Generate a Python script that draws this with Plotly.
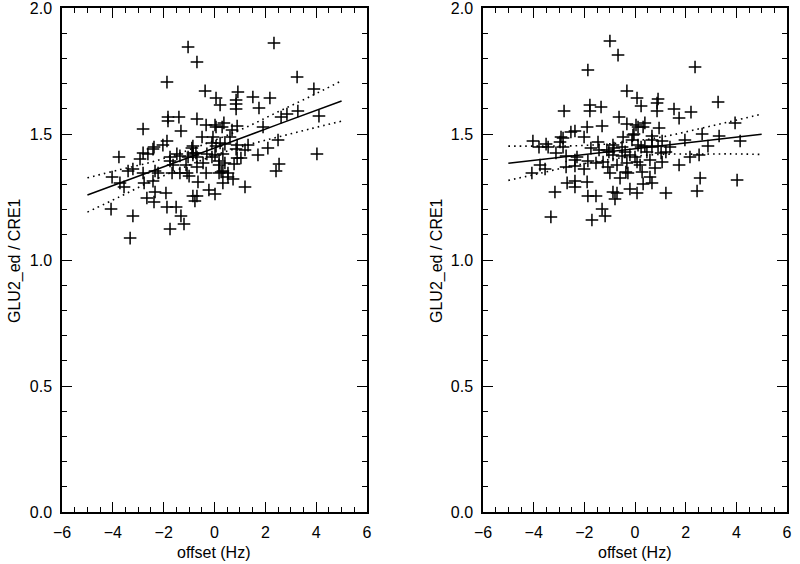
import plotly.graph_objects as go

# ---------------- data ----------------
left_x = [-1.04, -0.69, -1.87, -0.37, 0.06, 0.22, 0.92, 0.85, 0.85, 0.85, 1.51, 2.18, 1.75, 2.34, 3.25,
          3.91, 3.28, 2.85, 2.62, 4.11, -1.83, -1.83, -1.40, -2.81, -1.32, -0.69, -0.33, 0.02, 0.06, 0.37,
          0.30, 0.89, 0.69, 1.91, -0.49, -0.06, 0.61, 2.50, -1.87, -2.03, -2.38, -0.85, -0.10, 0.22, 0.89,
          1.32, 2.10, -2.42, -2.81, -2.62, -0.89, -0.85, 0.06, 0.41, -3.76, -2.93, -1.75, -1.75, -1.48, -1.36,
          -1.04, -0.85, -0.73, -0.69, -0.30, -0.10, 0.02, 0.33, 0.18, 0.41, 0.89, 0.77, -3.40, -3.21, -2.81,
          -2.34, -2.22, -1.67, -1.36, -1.08, -1.00, -1.63, -1.12, -0.69, -0.45, -0.33, 0.18, 0.26, 0.33, 0.18,
          0.53, -4.03, -3.72, -3.56, -2.77, -2.42, -0.65, 0.33, 0.53, 0.73, -0.22, 0.02, -2.34, -2.38, -2.66,
          -1.91, -0.85, -0.77, -0.69, -4.07, -1.87, -1.51, -3.21, -1.32, -1.20, -1.75, -3.32, 1.71, 4.03, 2.54,
          2.42, 1.04, 1.20, 1.20, 0.85]
left_y = [1.845, 1.786, 1.706, 1.671, 1.643, 1.615, 1.667, 1.635, 1.619, 1.599, 1.647, 1.643, 1.603, 1.861, 1.726,
          1.679, 1.591, 1.579, 1.567, 1.571, 1.567, 1.552, 1.567, 1.520, 1.512, 1.560, 1.536, 1.536, 1.528, 1.544,
          1.528, 1.532, 1.516, 1.528, 1.488, 1.488, 1.488, 1.476, 1.472, 1.456, 1.448, 1.452, 1.464, 1.464, 1.456,
          1.456, 1.444, 1.440, 1.425, 1.421, 1.444, 1.425, 1.452, 1.460, 1.409, 1.401, 1.409, 1.393, 1.421, 1.413,
          1.409, 1.417, 1.425, 1.409, 1.421, 1.409, 1.417, 1.421, 1.393, 1.385, 1.405, 1.381, 1.353, 1.361, 1.345,
          1.353, 1.345, 1.345, 1.345, 1.345, 1.333, 1.377, 1.377, 1.369, 1.385, 1.345, 1.377, 1.349, 1.353, 1.345,
          1.345, 1.329, 1.306, 1.290, 1.306, 1.313, 1.310, 1.306, 1.329, 1.321, 1.278, 1.262, 1.270, 1.230, 1.246,
          1.266, 1.254, 1.234, 1.254, 1.202, 1.210, 1.210, 1.175, 1.175, 1.143, 1.123, 1.087, 1.417, 1.421, 1.381,
          1.353, 1.405, 1.437, 1.290, 1.440]

right_x = [-0.99, -0.67, -1.86, 2.37, -0.32, 0.08, -1.78, -1.78, -1.34, -2.80, 0.91, 0.87, 0.24, 3.28, 1.54,
           2.21, 0.87, -0.63, 1.74, -0.32, 0.04, 0.12, 0.39, 0.32, 0.95, -1.89, -1.30, 3.95, -2.37, -2.53,
           -2.92, -2.84, -2.01, -0.47, -0.08, -0.12, 2.65, 3.32, 4.15, -4.03, -3.51, -3.79, -3.43, -2.96, -1.46,
           -0.87, -0.83, 0.67, 0.67, 1.07, 1.97, 2.88, 1.38, 0.91, -3.12, -1.74, -2.29, -2.37, -2.72, -2.72,
           -2.37, -1.86, -1.54, -1.26, -1.11, -0.87, -0.71, -0.32, -0.36, -0.28, 0.00, 0.08, -3.75, -3.55, -4.07,
           -0.99, -0.59, -2.68, -2.37, -2.37, -1.89, -3.16, -1.86, -1.54, -0.87, -0.71, -0.79, -0.20, 0.08, -1.30,
           -1.18, -3.32, -1.70, 0.12, 0.39, 1.22, 2.17, 2.53, 1.07, 1.74, 0.79, 0.20, 0.28, -1.07, 0.59,
           0.67, 0.32, 2.57, 4.03, 1.22, 2.45, -0.04, 0.24, -0.20, -0.51, -0.39, -0.51, -1.03, -1.42, -2.84,
           -2.01, 0.59, 0.67, 0.47, 1.03]
right_y = [1.869, 1.813, 1.754, 1.766, 1.671, 1.643, 1.615, 1.591, 1.607, 1.591, 1.639, 1.623, 1.611, 1.627, 1.599,
           1.587, 1.591, 1.567, 1.563, 1.540, 1.536, 1.528, 1.544, 1.528, 1.524, 1.528, 1.532, 1.544, 1.512, 1.508,
           1.488, 1.484, 1.488, 1.488, 1.496, 1.476, 1.500, 1.492, 1.472, 1.472, 1.460, 1.448, 1.448, 1.468, 1.468,
           1.456, 1.444, 1.492, 1.476, 1.472, 1.476, 1.452, 1.448, 1.452, 1.425, 1.444, 1.409, 1.397, 1.413, 1.369,
           1.373, 1.393, 1.385, 1.389, 1.437, 1.417, 1.377, 1.385, 1.349, 1.345, 1.409, 1.389, 1.377, 1.361, 1.345,
           1.345, 1.325, 1.306, 1.313, 1.290, 1.310, 1.270, 1.254, 1.254, 1.270, 1.266, 1.242, 1.282, 1.266, 1.202,
           1.175, 1.171, 1.159, 1.456, 1.452, 1.429, 1.409, 1.417, 1.389, 1.377, 1.365, 1.377, 1.349, 1.369, 1.329,
           1.306, 1.302, 1.325, 1.317, 1.266, 1.274, 1.500, 1.448, 1.417, 1.448, 1.429, 1.413, 1.429, 1.437, 1.448,
           1.361, 1.397, 1.448, 1.429, 1.425]

# regression line and confidence band, read at these offsets
fit_x = [-5, -3.75, -2.5, -1.25, 0, 1.25, 2.5, 3.75, 5]
left_fit = [1.258, 1.304, 1.351, 1.398, 1.4445, 1.491, 1.538, 1.584, 1.631]
left_upper = [1.326, 1.358, 1.388, 1.428, 1.475, 1.527, 1.588, 1.648, 1.711]
left_lower = [1.190, 1.250, 1.312, 1.366, 1.415, 1.455, 1.488, 1.520, 1.551]
right_fit = [1.384, 1.398, 1.413, 1.427, 1.4415, 1.456, 1.470, 1.485, 1.499]
right_upper = [1.452, 1.452, 1.453, 1.459, 1.472, 1.492, 1.520, 1.549, 1.579]
right_lower = [1.316, 1.344, 1.373, 1.395, 1.412, 1.420, 1.420, 1.421, 1.419]

x_title = "offset (Hz)"
y_title = "GLU2_ed / CRE1"

# ---------------- figure ----------------
fig = go.Figure()

panels = [
    (left_x, left_y, left_fit, left_upper, left_lower, "x", "y"),
    (right_x, right_y, right_fit, right_upper, right_lower, "x2", "y2"),
]
for px_, py_, fit, up, lo, xa, ya in panels:
    fig.add_trace(go.Scatter(x=px_, y=py_, mode="markers", xaxis=xa, yaxis=ya,
                             marker=dict(symbol="cross-thin", size=9, color="black",
                                         line=dict(color="black", width=1.5)),
                             showlegend=False))
    fig.add_trace(go.Scatter(x=fit_x, y=fit, mode="lines", xaxis=xa, yaxis=ya,
                             line=dict(color="black", width=1.5), showlegend=False))
    for band in (up, lo):
        fig.add_trace(go.Scatter(x=fit_x, y=band, mode="lines", xaxis=xa, yaxis=ya,
                                 line=dict(color="black", width=1.6, dash="1.6px,4px", shape="spline"),
                                 showlegend=False))

font = dict(family="Liberation Sans, Arial, Helvetica, sans-serif", size=16, color="black")

def xaxis(domain, anchor):
    return dict(domain=domain, anchor=anchor, range=[-6, 6], tickvals=[-6, -4, -2, 0, 2, 4, 6],
                ticks="inside", ticklen=10, tickwidth=1.2, tickcolor="black",
                minor=dict(dtick=0.5, tick0=0, ticks="inside", ticklen=5, tickwidth=1.2, tickcolor="black"),
                showline=True, linecolor="black", linewidth=1.5, mirror="allticks",
                showgrid=False, zeroline=False, tickfont=font, automargin=False,
                ticklabelstandoff=5, ticklabeloverflow="allow")

def yaxis(domain, anchor):
    return dict(domain=domain, anchor=anchor, range=[0, 2], tickvals=[0, 0.5, 1.0, 1.5, 2.0],
                tickformat=".1f",
                ticks="inside", ticklen=10, tickwidth=1.2, tickcolor="black",
                minor=dict(dtick=0.1, tick0=0, ticks="inside", ticklen=5, tickwidth=1.2, tickcolor="black"),
                showline=True, linecolor="black", linewidth=1.5, mirror="allticks",
                showgrid=False, zeroline=False, tickfont=font, automargin=False,
                ticklabelstandoff=5, ticklabeloverflow="allow")

ydom = [1 - 512 / 564, 1 - 8 / 564]
ann = dict(xref="paper", yref="paper", showarrow=False, font=font,
           xanchor="center", yanchor="middle")
fig.update_layout(
    width=800, height=564,
    margin=dict(l=0, r=0, t=0, b=0, autoexpand=False),
    paper_bgcolor="white", plot_bgcolor="white",
    xaxis=xaxis([62 / 800, 367 / 800], "y"),
    yaxis=yaxis(ydom, "x"),
    xaxis2=xaxis([483 / 800, 787 / 800], "y2"),
    yaxis2=yaxis(ydom, "x2"),
    annotations=[
        dict(text=x_title, x=214 / 800, y=1 - 552 / 564, **ann),
        dict(text=x_title, x=635 / 800, y=1 - 552 / 564, **ann),
        dict(text=y_title, x=15 / 800, y=1 - 261 / 564, textangle=-90, **ann),
        dict(text=y_title, x=437 / 800, y=1 - 261 / 564, textangle=-90, **ann),
    ],
)

fig.write_html("out.html", config={"displayModeBar": False},
               post_script="document.body.style.margin='0';document.body.style.overflow='hidden';")
